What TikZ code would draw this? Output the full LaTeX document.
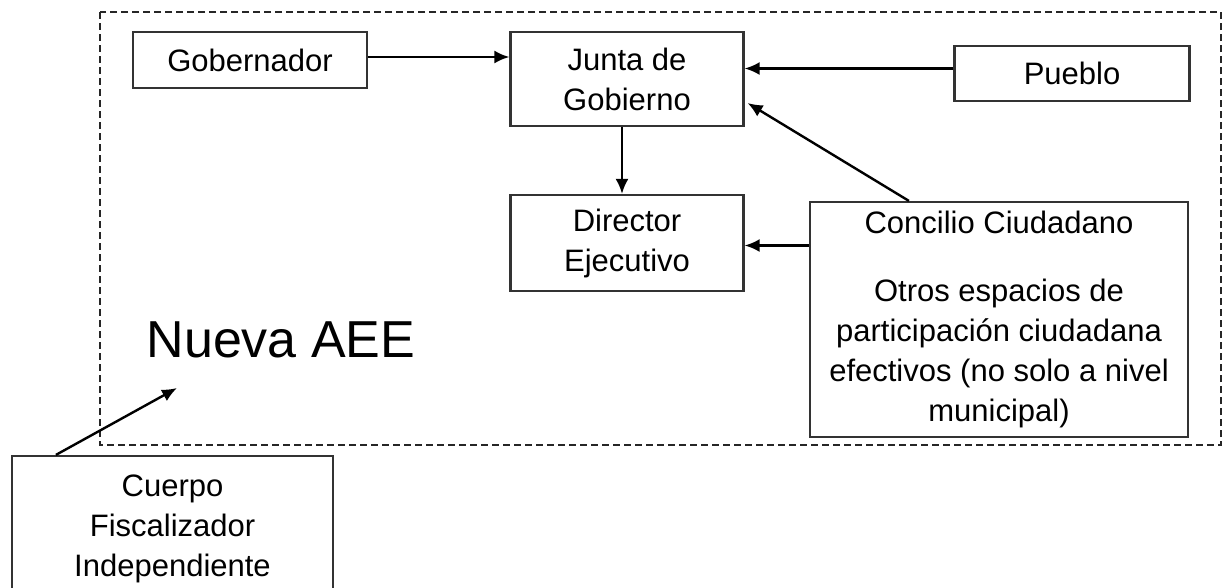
\documentclass[tikz,border=0pt]{standalone}
\usepackage{fontspec}
\setmainfont{Liberation Sans}
\usetikzlibrary{arrows.meta}
\begin{document}
\begin{tikzpicture}[x=1pt,y=-1pt,
  box/.style={draw=black!80, line width=2.2pt, fill=white, inner sep=0pt,
    align=center, font=\fontsize{31}{40}\selectfont},
  arr/.style={line width=2.4pt, -{Latex[length=15pt,width=13pt]}},
  frame/.style={draw=black!85, line width=2.4pt, dash pattern=on 7pt off 4pt},
  big/.style={inner sep=0pt, font=\fontsize{52}{60}\selectfont}]
\useasboundingbox (0,0) rectangle (1223,587);
\clip (0,0) rectangle (1223,587);
\fill[white] (0,0) rectangle (1223,587);

% dashed frame
\draw[frame] (100,12) rectangle (1221,445);

% nodes
\node[box, minimum width=234pt, minimum height=56pt] (gob) at (250,60) {Gobernador};
\node[box, minimum width=233pt, minimum height=94pt] (junta) at (627,79) {Junta de\\Gobierno};
\node[box, minimum width=235pt, minimum height=55pt] (pueblo) at (1072,73.5) {Pueblo};
\node[box, minimum width=233pt, minimum height=96pt] (director) at (627,243) {Director\\Ejecutivo};
\node[box, minimum width=378pt, minimum height=235pt] (concilio) at (999,319.5)
  {Concilio Ciudadano\\[28pt]Otros espacios de\\participación ciudadana\\efectivos (no solo a nivel\\municipal)};
\node[box, minimum width=321pt, minimum height=146pt] (cuerpo) at (172.5,529)
  {Cuerpo\\Fiscalizador\\Independiente};
\node[big, anchor=base] (nueva) at (281,357) {Nueva AEE};
\coordinate (nuevatip) at (177,388);

% connectors
\draw[arr] ([yshift=3pt]gob.east) -- ([yshift=3pt]gob.east -| junta.west);
\draw[arr] ([yshift=5pt]pueblo.west) -- ([yshift=5pt]pueblo.west -| junta.east);
\draw[arr] ([xshift=-5pt]junta.south) -- ([xshift=-5pt]director.north);
\draw[arr] ([xshift=100pt]concilio.north west) -- ([yshift=-24pt,xshift=3pt]junta.east);
\draw[arr] ([yshift=74pt]concilio.west) -- ([yshift=74pt]concilio.west -| director.east);
\draw[arr] ([xshift=45pt]cuerpo.north west) -- (nuevatip);
\end{tikzpicture}
\end{document}
